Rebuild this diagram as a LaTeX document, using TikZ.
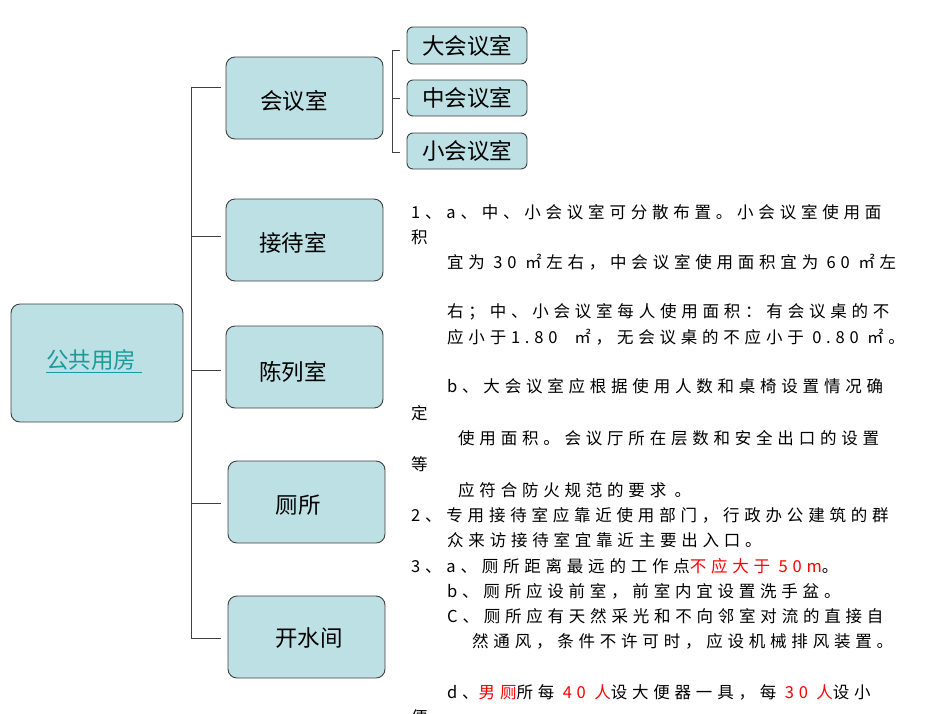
\documentclass[tikz,border=0pt]{standalone}
\usepackage{fontspec}
\setmainfont{Noto Sans CJK SC}
\newfontfamily\txt[LetterSpace=29]{Noto Sans CJK SC}
\usetikzlibrary{positioning}
\definecolor{boxfill}{HTML}{BCE0E3}
\definecolor{boxline}{HTML}{404040}
\definecolor{linkc}{HTML}{1A9A9A}
\tikzset{
  room/.style={draw=boxline,fill=boxfill,rounded corners=9pt,line width=0.9pt},
  lbl/.style={font=\fontsize{22.5}{22.5}\selectfont,inner sep=0pt},
  conn/.style={draw=black!75,line width=0.8pt},
  para/.style={anchor=base west,inner sep=0pt,font=\txt\fontsize{16.5}{16.5}\selectfont},
}
\begin{document}
\begin{tikzpicture}[x=1pt,y=-1pt]
\useasboundingbox (0,0) rectangle (950,713);
\clip (0,0) rectangle (950,713);
% boxes
\draw[room] (11,304) rectangle (183,422);
\node[lbl,text=linkc] (main) at (94,361) {\underline{公共用房\ }};
\draw[room] (226,57) rectangle (383,139);
\node[lbl] (hys) at (294,101) {会议室};
\draw[room] (226,199) rectangle (383,281);
\node[lbl] (jds) at (293,243) {接待室};
\draw[room] (226,326) rectangle (383,408);
\node[lbl] (cls) at (293,372) {陈列室};
\draw[room] (228,461) rectangle (385,543);
\node[lbl] (cs) at (298,505) {厕所};
\draw[room] (228,596) rectangle (385,678);
\node[lbl] (ksj) at (309,638) {开水间};
\draw[room,rounded corners=6pt] (407,27) rectangle (527,64);
\node[lbl] (d) at (467,46) {大会议室};
\draw[room,rounded corners=6pt] (407,80) rectangle (527,116);
\node[lbl] (z) at (467,98) {中会议室};
\draw[room,rounded corners=6pt] (407,133) rectangle (527,169);
\node[lbl] (x) at (467,151) {小会议室};
% trunk
\coordinate (t1) at (191,87);
\coordinate (t5) at (191,638);
\draw[conn] (221,87) -- (t1) -- (t5) -- (221,638);
\draw[conn] (191,236) -- (221,236);
\draw[conn] (191,370) -- (221,370);
\draw[conn] (191,503) -- (221,503);
\coordinate (b1) at (392,50);
\coordinate (b3) at (392,152);
\draw[conn] (400,50) -- (b1) -- (b3) -- (400,152);
\draw[conn] (392,98) -- (400,98);
% paragraph
\node[para] (p1) at (411,218) {1、a、中、小会议室可分散布置。小会议室使用面};
\node[para] (p2) at (411,243) {积};
\node[para] (p3) at (447,268) {宜为 30 ㎡左右，中会议室使用面积宜为 60 ㎡左};
\node[para] (p4) at (447,317) {右；中、小会议室每人使用面积：有会议桌的不};
\node[para] (p5) at (447,343) {应小于1.80\ \ ㎡，无会议桌的不应小于 0.80 ㎡。};
\node[para] (p6) at (447,392) {b、大会议室应根据使用人数和桌椅设置情况确};
\node[para] (p7) at (411,419) {定};
\node[para] (p8) at (458,444) {使用面积。会议厅所在层数和安全出口的设置};
\node[para] (p9) at (411,470) {等};
\node[para] (p10) at (458,496) {应符合防火规范的要求\ 。};
\node[para] (p11) at (411,521) {2、专用接待室应靠近使用部门，行政办公建筑的群};
\node[para] (p12) at (447,546) {众来访接待室宜靠近主要出入口。};
\node[para] (p13) at (411,572) {3、a、厕所距离最远的工作点\textcolor{red}{不应大于 50m}。};
\node[para] (p14) at (447,597) {b、厕所应设前室，前室内宜设置洗手盆。};
\node[para] (p15) at (447,622) {C、厕所应有天然采光和不向邻室对流的直接自};
\node[para] (p16) at (472,647) {然通风，条件不许可时，应设机械排风装置。};
\node[para] (p17) at (447,698) {d、\textcolor{red}{男厕}所每 \textcolor{red}{40 人}设大便器一具，每 \textcolor{red}{30 人}设小};
\node[para] (p18) at (411,723) {便};
\end{tikzpicture}
\end{document}
